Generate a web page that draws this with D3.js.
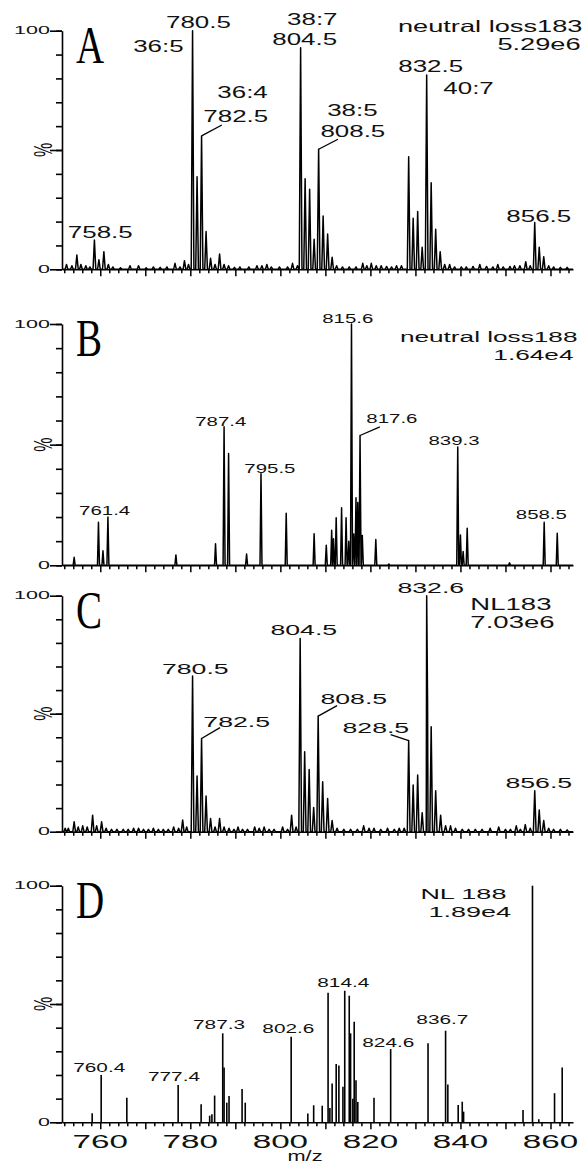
<!DOCTYPE html>
<html>
<head>
<meta charset="utf-8">
<script src="https://cdn.jsdelivr.net/npm/d3@7"></script>
<style>
body { margin: 0; background: #fff; }
svg { display: block; font-family: "Liberation Sans", Arial, sans-serif; }
</style>
</head>
<body>
<svg id="chart" width="587" height="1165"></svg>
<script>
// m/z range of every panel
const mzDomain = [751.5, 865];
const majorTicks = d3.range(760, 861, 10);
const minorTicks = d3.range(752, 865, 2).filter(v => v % 10 !== 0);
const labelledTicks = [760, 780, 800, 820, 840, 860];

// peaks: [m/z, relative intensity %]
const peaksA = [[752.5,2],[753.7,1.5],[754.8,6],[755.7,2],[756.8,1.5],[757.7,1],[758.7,12.3],[759.7,4],[760.8,7.4],[761.8,2],[762.8,1],[764.5,0.6],[766.6,1.5],[768.5,1.5],[770.2,0.6],[771.8,1],[773.3,0.8],[774.8,1],[776.6,2.5],[777.7,1],[778.7,3.6],[779.6,2],
  [780.5,100],[781.5,38.8],[782.5,55.9],[783.5,15.8],[784.5,4.6],[785.5,2],[786.5,6.4],[787.5,2],[788.5,1.5],[789.8,0.8],[791,1],[793,1],[794.8,1.5],[795.9,1.5],[797,2],[798,1],[799.8,1],[801.6,1],[802.7,2.5],[803.8,1.5],
  [804.5,92.9],[805.5,38],[806.5,33.5],[807.5,12.6],[808.5,50.3],[809.5,22.3],[810.5,14.8],[811.5,5],[812.5,1.5],[813.8,1],[815.3,1],[816.8,1],[818.3,2.5],[819.2,1.5],[820.2,2.5],[821.3,1.5],[822.4,1.5],[823.6,1.2],[824.7,1],[825.8,1.5],[826.9,1.5],
  [828.5,47.2],[829.5,21.4],[830.5,24.2],[831.5,9.2],[832.5,81.4],[833.5,36.3],[834.5,16.8],[835.5,7.4],[836.5,2],[837.6,2],[838.7,1],[840.2,1],[841.3,1],[842.8,1.2],[844.3,2],[845.8,1.2],[847.2,1],[848.3,2],[849.5,1],[851,1.2],[852,1.5],[853.2,1.5],[854.5,3.2],[855.5,1.5],
  [856.5,19.6],[857.5,9.2],[858.5,5.3],[859.6,1.5],[860.7,1],[862.2,0.8],[863.7,0.8]];

const peaksB = [[754.2,3.3],[759.6,17.8],[760.6,6],[761.7,20],[776.8,4.3],[785.6,8.9],[787.5,57.4],[788.5,46.3],[792.5,4.7],[795.7,37.9],[801.3,21.6],
  [807.5,13.1],[810.2,8.3],[811.4,14.5],[811.8,11],[812.4,19.7],[813.6,23.8],[814.6,19.7],[815.2,10],[815.8,100],[816.3,13],[816.8,28],[817.2,26],[817.7,53.8],[818.2,12.4],[821.2,10.7],[824.1,0.5],
  [839.4,49],[840,12.6],[840.6,5.7],[841.5,15.4],[850.9,1],[858.6,17.8],[861.5,13.3]];

const peaksC = [[752.2,1.5],[752.9,1.5],[754.2,4.2],[755.1,2],[756.1,2.5],[757.1,2],[758.3,7],[759.2,2.5],[760.3,4.2],[761.3,1.5],[762.5,1],[763.7,1],[765.1,1],[766.2,1],[767.4,1.5],[768.5,1.5],[769.6,1],[770.7,1],[771.8,1.5],[772.9,1],[774,1],[775.1,1],[776.3,2],[777.4,1.5],[778.3,5],[779.2,2],
  [780.5,66],[781.5,23.6],[782.5,39.5],[783.5,15.1],[784.5,5.6],[785.5,2],[786.5,5.6],[787.5,2],[788.6,1.5],[789.7,1],[790.6,2],[791.6,1],[792.7,1],[794.3,2],[795.3,1.5],[796.4,2],[797.5,1],[798.6,1],[800.5,2],[801.6,1],[802.5,7],[803.5,2],
  [804.4,81.9],[805.4,33.9],[806.4,26.4],[807.4,10.3],[808.4,49],[809.4,21.2],[810.5,14.1],[811.5,4.7],[812.6,1.5],[814.1,1],[815.6,1],[817.1,1],[818.5,2.5],[819.7,1.5],[820.8,1.5],[822.3,1],[823.8,1.5],[825.3,1],[826.4,1.5],[827.5,1.5],
  [828.5,38.6],[829.5,19.8],[830.5,24],[831.5,8],[832.5,100],[832.7,55],[833.5,44.5],[834.5,17.4],[835.6,7],[836.7,2.5],[837.8,2.5],[838.9,1.5],[840.4,1],[841.8,1],[843.3,1],[844.8,1],[846.6,1.5],[848.5,2],[850,1],[851.1,1],[852.4,2.5],[853.3,1],[854.4,3],[855.5,1.5],
  [856.5,17.4],[857.5,9.2],[858.5,4.7],[859.6,1.5],[860.7,1],[862.2,1],[863.7,0.8]];

const peaksD = [[758.2,3.8],[760.2,20],[765.9,10.4],[777.3,15.8],[782.4,7.6],[784.3,2.8],[784.8,3.4],[785.4,11.3],[787.2,37.6],[787.5,23.2],[788.1,8.3],[788.6,11.1],[791.5,14.1],[792.2,8.3],
  [802.4,36.2],[806.1,3.7],[807.4,7.2],[809.3,7],[810.6,54.8],[811,6],[811.5,16.4],[812.4,24.6],[813,24],[813.9,15],[814.3,55.6],[815.3,53.5],[815.6,37.6],[816.1,10],[816.4,42.5],[816.8,17.8],[817.2,8.6],
  [820.8,10.4],[824.5,31],[832.8,33.4],[836.7,38.7],[837.2,16],[839.5,7.3],[840.4,8.7],[840.7,4.5],[853.9,5.2],[856,100],[857.4,1.3],[860.9,12.3],[862.6,23.2]];

// peak labels: [text, m/z, %] (left edge / baseline of the text)
const labelsA = [["780.5",774.6,101.3],["36:5",767.3,91.2],["36:4",786.0,71.8],["782.5",782.9,61.8],["38:7",801.5,102.5],["804.5",798.2,94.1],["38:5",810.4,64.3],["808.5",808.9,55.5],["832.5",826.2,82.8],["40:7",836.2,73.5],["856.5",850.2,19.7],["758.5",752.8,13.0]];
const labelsB = [["761.4",755.3,20.7],["787.4",781.1,57.9],["795.5",792.0,38.4],["815.6",809.3,100.4],["817.6",819.1,59.1],["839.3",832.9,50],["858.5",852.3,19]];
const labelsC = [["780.5",773.7,66.9],["782.5",782.9,44.5],["804.5",797.8,83.5],["808.5",808.9,54.2],["828.5",813.8,41.9],["832.6",826.0,101.3],["856.5",850.0,18.6]];
const labelsD = [["760.4",754.0,21.2],["777.4",770.6,17.4],["787.3",780.6,39.4],["802.6",796.0,37.7],["814.4",808.2,57.2],["824.6",818.2,31.8],["836.7",830.2,41.5]];

// scan notes
const notesA = [["neutral loss183",867.1,99.6],["5.29e6",866.7,92.0]];
const notesB = [["neutral loss188",866.0,92.6],["1.64e4",865.1,85.1]];
const notesC = [["NL183",842.2,94.1],["7.03e6",842.2,86.4]];
const notesD = [["NL 188",831.1,94.5],["1.89e4",832.9,86.9]];

// leader lines: [peak m/z, peak %, end m/z, end %]
const leadersA = [[782.5,55.9,787.0,60.5],[808.5,50.3,812.8,54.5]];
const leadersB = [[817.7,53.8,822.1,57.4]];
const leadersC = [[782.5,39.5,786.6,44.1],[808.4,49,812.6,53.4],[828.5,38.6,824.5,41.1]];
const leadersD = [];

function getPanels() {
    return [
        { letter: "A", peaks: peaksA, labels: labelsA, notes: notesA, leaders: leadersA, top: 30.7, bottom: 269.3, kind: "profile", width: 0.3, fs: 16, sx: 1.62, noteFs: 16.5, noteSx: 1.65, noteAnchor: "end" },
        { letter: "B", peaks: peaksB, labels: labelsB, notes: notesB, leaders: leadersB, top: 324, bottom: 565.3, kind: "profile", width: 0.22, fs: 12.6, sx: 1.62, noteFs: 15.5, noteSx: 1.69, noteAnchor: "end" },
        { letter: "C", peaks: peaksC, labels: labelsC, notes: notesC, leaders: leadersC, top: 595.7, bottom: 831.7, kind: "profile", width: 0.3, fs: 15.5, sx: 1.72, noteFs: 16.3, noteSx: 1.69, noteAnchor: "start" },
        { letter: "D", peaks: peaksD, labels: labelsD, notes: notesD, leaders: leadersD, top: 885.7, bottom: 1122.3, kind: "stick", width: 0, fs: 13, sx: 1.6, noteFs: 15, noteSx: 1.8, noteAnchor: "start", xLabels: true }
    ];
}

function addText(g, str, px, py, fs, sx, anchor) {
    return g.append("text")
        .attr("transform", `translate(${px},${py}) scale(${sx},1)`)
        .attr("font-size", fs)
        .attr("text-anchor", anchor)
        .attr("fill", "#111")
        .text(str);
}

function profilePoints(peaks, w) {
    let pts = [];
    peaks.forEach(([m, v]) => {
        pts.push([m - w, 0], [m, v], [m + w, 0]);
    });
    pts.sort((a, b) => a[0] - b[0]);
    return [[mzDomain[0], 0]].concat(pts, [[mzDomain[1], 0]]);
}

function drawPanel(svg, p) {
    let x = d3.scaleLinear().domain(mzDomain).range([62, 573]);
    let y = d3.scaleLinear().domain([0, 100]).range([p.bottom, p.top]);
    let g = svg.append("g");

    // spectrum
    if (p.kind === "profile") {
        let line = d3.line().x(d => x(d[0])).y(d => y(d[1]));
        g.append("path")
            .attr("d", line(profilePoints(p.peaks, p.width)))
            .attr("fill", "none")
            .attr("stroke", "#000")
            .attr("stroke-width", 1.5)
            .attr("stroke-linejoin", "round");
    } else {
        g.selectAll(".stick").data(p.peaks).enter().append("line")
            .attr("x1", d => x(d[0])).attr("x2", d => x(d[0]))
            .attr("y1", y(0)).attr("y2", d => y(d[1]))
            .attr("stroke", "#000")
            .attr("stroke-width", 1.6);
    }

    // x axis
    let xAxisMinor = g.append("g").attr("transform", `translate(0,${p.bottom})`)
        .call(d3.axisBottom(x).tickValues(minorTicks).tickSize(4).tickSizeOuter(0).tickFormat(""));
    let xAxisMajor = g.append("g").attr("transform", `translate(0,${p.bottom})`)
        .call(d3.axisBottom(x).tickValues(majorTicks).tickSize(7).tickSizeOuter(0).tickFormat(""));
    xAxisMajor.select(".domain").remove();
    [xAxisMinor, xAxisMajor].forEach(a => {
        a.selectAll("line, path").attr("stroke", "#000").attr("stroke-width", 1.5);
    });

    // y axis
    let yAxisMinor = g.append("g").attr("transform", "translate(62,0)")
        .call(d3.axisLeft(y).tickValues(d3.range(0, 101, 10)).tickSize(6).tickSizeOuter(0).tickFormat(""));
    let yAxisMajor = g.append("g").attr("transform", "translate(62,0)")
        .call(d3.axisLeft(y).tickValues([0, 50, 100]).tickSize(12).tickSizeOuter(0).tickFormat(""));
    yAxisMajor.select(".domain").remove();
    [yAxisMinor, yAxisMajor].forEach(a => {
        a.selectAll("line, path").attr("stroke", "#000").attr("stroke-width", 1.6);
    });

    [100, 0].forEach(v => {
        addText(g, String(v), 50, y(v), 10.5, 2.05, "end").attr("dy", "0.36em");
    });

    g.append("text")
        .attr("transform", `translate(52,${y(50)}) scale(1.6,1) rotate(-90)`)
        .attr("font-size", 16)
        .attr("text-anchor", "middle")
        .attr("fill", "#111")
        .text("%");

    // panel letter
    g.append("text")
        .attr("transform", `translate(76,${p.top + 32}) scale(0.75,1)`)
        .attr("font-family", "'Liberation Serif', 'Times New Roman', serif")
        .attr("font-size", 52)
        .attr("fill", "#000")
        .text(p.letter);

    // leader lines
    g.selectAll(".leader").data(p.leaders).enter().append("line")
        .attr("x1", d => x(d[0])).attr("y1", d => y(d[1]))
        .attr("x2", d => x(d[2])).attr("y2", d => y(d[3]))
        .attr("stroke", "#000")
        .attr("stroke-width", 1.3);

    // peak labels and notes
    p.labels.forEach(l => addText(g, l[0], x(l[1]), y(l[2]), p.fs, p.sx, "start"));
    p.notes.forEach(n => addText(g, n[0], x(n[1]), y(n[2]), p.noteFs, p.noteSx, p.noteAnchor));

    if (p.xLabels) {
        labelledTicks.forEach(t => addText(g, String(t), x(t), p.bottom + 26, 17.5, 1.9, "middle"));
        addText(g, "m/z", 305, p.bottom + 38.5, 14.5, 1.5, "middle");
    }
}

function drawChart() {
    let svg = d3.select("#chart");
    getPanels().forEach(p => drawPanel(svg, p));
}

drawChart();
</script>
</body>
</html>
